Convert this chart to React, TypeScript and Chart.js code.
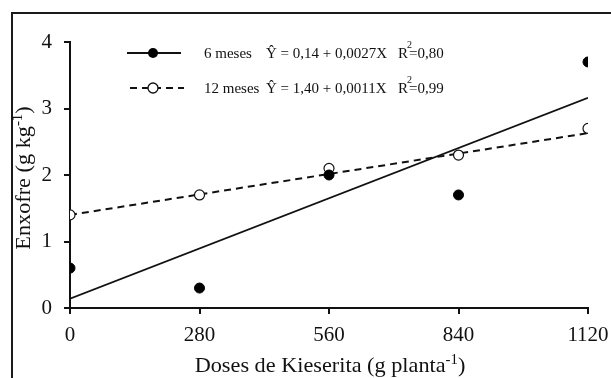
import React, { useEffect, useRef } from "react";
import { Chart, registerables } from "chart.js";

Chart.register(...registerables);

const doses = [0, 280, 560, 840, 1120];
const xTicks = [0, 280, 560, 840, 1120];
const yTicks = [0, 1, 2, 3, 4];
const s6 = [0.6, 0.3, 2.0, 1.7, 3.7];
const s12 = [1.4, 1.7, 2.1, 2.3, 2.7];
const fitX = [0, 1120];
const fit6 = [0.14, 3.16];
const fit12 = [1.4, 2.63];
const legend6 = ["6 meses", "Ŷ = 0,14 + 0,0027X", "R", "2", "=0,80"];
const legend12 = ["12 meses", "Ŷ = 1,40 + 0,0011X", "R", "2", "=0,99"];

const SERIF = "'Liberation Serif', 'Times New Roman', serif";

function drawTitle(ctx: any, main: string, cx: number, yb: number, size: number, sx: number) {
  ctx.save();
  ctx.translate(cx, yb);
  ctx.scale(sx, 1);
  ctx.font = `${size}px ${SERIF}`;
  const wMain = ctx.measureText(main).width;
  ctx.font = `${Math.round(size * 0.65)}px ${SERIF}`;
  const wSup = ctx.measureText("-1").width;
  ctx.font = `${size}px ${SERIF}`;
  const wClose = ctx.measureText(")").width;
  const x0 = -(wMain + wSup + wClose) / 2;
  ctx.textAlign = "left";
  ctx.textBaseline = "alphabetic";
  ctx.fillText(main, x0, 0);
  ctx.font = `${Math.round(size * 0.65)}px ${SERIF}`;
  ctx.fillText("-1", x0 + wMain, -size * 0.4);
  ctx.font = `${size}px ${SERIF}`;
  ctx.fillText(")", x0 + wMain + wSup, 0);
  ctx.restore();
}

const decorPlugin = {
  id: "decor",
  afterDraw(chart: any) {
    const ctx = chart.ctx;
    ctx.save();
    ctx.strokeStyle = "#1a1a1a";
    ctx.lineWidth = 2;
    ctx.beginPath();
    ctx.moveTo(12, 380);
    ctx.lineTo(12, 13);
    ctx.lineTo(615, 13);
    ctx.stroke();

    ctx.fillStyle = "#111";
    drawTitle(ctx, "Doses de Kieserita (g planta", 330, 372, 21, 1.06);

    ctx.save();
    ctx.translate(30, 178);
    ctx.rotate(-Math.PI / 2);
    drawTitle(ctx, "Enxofre (g kg", 0, 0, 21, 1.06);
    ctx.restore();

    const rows = [
      { y: 53, dash: [] as number[], fill: true, lw: 1.8, texts: legend6, x1: 127, x2: 181 },
      { y: 88, dash: [7, 5], fill: false, lw: 2, texts: legend12, x1: 130, x2: 184 },
    ];
    rows.forEach((r) => {
      ctx.strokeStyle = "#111";
      ctx.lineWidth = r.lw;
      ctx.setLineDash(r.dash);
      ctx.beginPath();
      ctx.moveTo(r.x1, r.y);
      ctx.lineTo(r.x2, r.y);
      ctx.stroke();
      ctx.setLineDash([]);
      ctx.beginPath();
      ctx.arc(153, r.y, 5, 0, Math.PI * 2);
      if (r.fill) {
        ctx.fillStyle = "#000";
        ctx.fill();
      } else {
        ctx.fillStyle = "#fff";
        ctx.fill();
        ctx.lineWidth = 1.3;
        ctx.stroke();
      }
      ctx.fillStyle = "#111";
      ctx.textAlign = "left";
      ctx.textBaseline = "alphabetic";
      ctx.font = `15px ${SERIF}`;
      const by = r.y + 5;
      ctx.fillText(r.texts[0], 204, by);
      ctx.fillText(r.texts[1], 266, by);
      ctx.fillText(r.texts[2], 398, by);
      const wr = ctx.measureText(r.texts[2]).width;
      ctx.font = `10px ${SERIF}`;
      ctx.fillText(r.texts[3], 398 + wr - 1, by - 10);
      ctx.font = `15px ${SERIF}`;
      ctx.fillText(r.texts[4], 398 + wr + 1, by);
    });
    ctx.restore();
  },
};

export default function App() {
  const ref = useRef<HTMLCanvasElement | null>(null);
  useEffect(() => {
    if (!ref.current) return;
    const chart = new Chart(ref.current, {
      type: "scatter",
      data: {
        datasets: [
          {
            label: "6 meses",
            data: doses.map((d, i) => ({ x: d, y: s6[i] })),
            backgroundColor: "#000",
            borderColor: "#000",
            pointRadius: 5,
            showLine: false,
          },
          {
            label: "12 meses",
            data: doses.map((d, i) => ({ x: d, y: s12[i] })),
            backgroundColor: "#fff",
            borderColor: "#111",
            borderWidth: 1.2,
            pointRadius: 5,
            showLine: false,
          },
          {
            label: "fit6",
            data: fitX.map((d, i) => ({ x: d, y: fit6[i] })),
            borderColor: "#111",
            borderWidth: 1.8,
            pointRadius: 0,
            showLine: true,
          },
          {
            label: "fit12",
            data: fitX.map((d, i) => ({ x: d, y: fit12[i] })),
            borderColor: "#111",
            borderWidth: 2,
            borderDash: [7, 5],
            pointRadius: 0,
            showLine: true,
          },
        ],
      },
      options: {
        responsive: false,
        animation: false,
        devicePixelRatio: 1,
        layout: { padding: { left: 0, top: 42, right: 23, bottom: 0 } },
        plugins: { legend: { display: false }, tooltip: { enabled: false } },
        scales: {
          x: {
            type: "linear",
            min: 0,
            max: 1120,
            afterBuildTicks: (s: any) => {
              s.ticks = xTicks.map((v) => ({ value: v }));
            },
            afterFit: (s: any) => {
              s.height = 70;
              s.paddingLeft = 0;
              s.paddingRight = 0;
            },
            grid: {
              drawOnChartArea: false,
              color: "#111",
              lineWidth: 2,
              tickLength: 6,
              tickWidth: 2,
            },
            border: { display: true, color: "#111", width: 2 },
            ticks: {
              color: "#111",
              padding: 9,
              maxRotation: 0,
              callback: (v: any) => String(v),
              font: { family: SERIF, size: 21 },
            },
          },
          y: {
            type: "linear",
            min: 0,
            max: 4,
            afterBuildTicks: (s: any) => {
              s.ticks = yTicks.map((v) => ({ value: v }));
            },
            afterFit: (s: any) => {
              s.width = 70;
              s.paddingTop = 0;
              s.paddingBottom = 0;
            },
            grid: {
              drawOnChartArea: false,
              color: "#111",
              lineWidth: 2,
              tickLength: 6,
              tickWidth: 2,
            },
            border: { display: true, color: "#111", width: 2 },
            ticks: {
              color: "#111",
              padding: 12,
              callback: (v: any) => String(v),
              font: { family: SERIF, size: 21 },
            },
          },
        },
      } as any,
      plugins: [decorPlugin],
    });
    return () => chart.destroy();
  }, []);
  return (
    <div style={{ position: "fixed", left: 0, top: 0, width: 611, height: 378, background: "#fff" }}>
      <canvas ref={ref} width={611} height={378} style={{ display: "block" }} />
    </div>
  );
}
